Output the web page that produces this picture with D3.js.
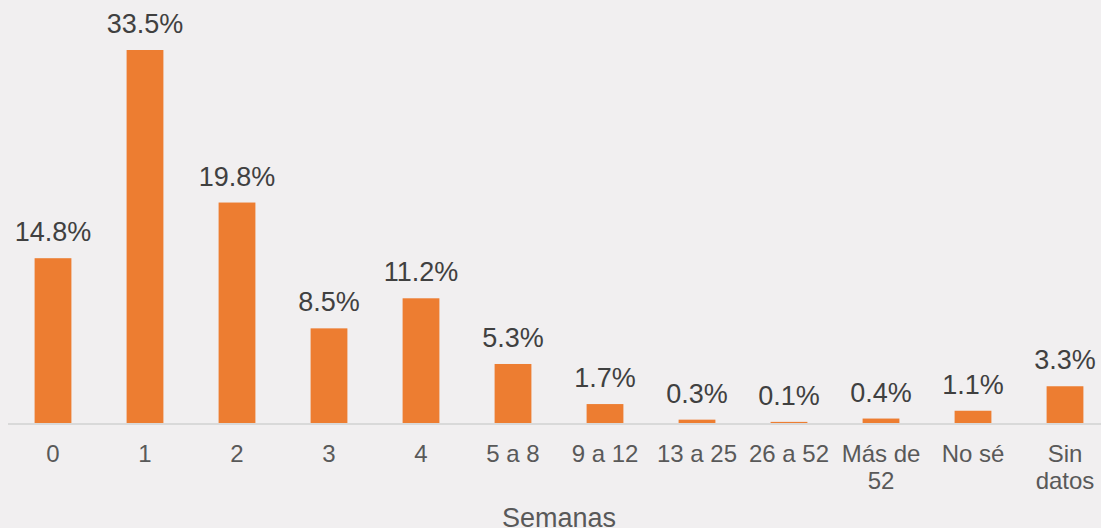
<!DOCTYPE html>
<html>
	<head>
		<script src="https://cdn.jsdelivr.net/npm/d3@7/dist/d3.min.js" charset="UTF-8"></script>
		<style type="text/css">
			html, body { margin: 0; padding: 0; background: #f1eff0; }
			svg { display: block; font-family: "Liberation Sans", Arial, sans-serif; }
			.axis path, .axis line { fill: none; stroke: #d9d9d9; stroke-width: 2; shape-rendering: crispEdges; }
		</style>
	</head>
	<body>
		<script type="text/javascript">
			var categories = ["0", "1", "2", "3", "4", "5 a 8", "9 a 12", "13 a 25", "26 a 52", "Más de\n52", "No sé", "Sin\ndatos"];
			var values = [14.8, 33.5, 19.8, 8.5, 11.2, 5.3, 1.7, 0.3, 0.1, 0.4, 1.1, 3.3];
			var axisTitle = "Semanas";

			var width = 1101;
			var height = 528;
			var baseline = 423;

			var svg = d3.select("body")
				.append("svg")
				.attr("width", width)
				.attr("height", height);

			var xScale = d3.scaleBand()
				.domain(categories)
				.range([7, 1111])
				.paddingInner(0.6)
				.paddingOuter(0.3);

			var yScale = d3.scaleLinear()
				.domain([0, 33.5])
				.range([baseline, 50]);

			var data = categories.map(function(c, i) { return {cat: c, val: values[i]}; });

			svg.selectAll("rect.bar")
				.data(data)
				.enter().append("rect")
				.attr("class", "bar")
				.attr("x", function(d) { return xScale(d.cat); })
				.attr("width", xScale.bandwidth())
				.attr("y", function(d) { return yScale(d.val); })
				.attr("height", function(d) { return baseline - yScale(d.val); })
				.attr("fill", "#ed7d31");

			// baseline axis
			var xAxis = d3.axisBottom(xScale).tickSize(0).tickFormat("");
			svg.append("g")
				.attr("class", "axis")
				.attr("transform", "translate(0," + baseline + ")")
				.call(xAxis);

			// value labels
			svg.selectAll("text.val")
				.data(data)
				.enter().append("text")
				.attr("class", "val")
				.attr("x", function(d) { return xScale(d.cat) + xScale.bandwidth() / 2; })
				.attr("y", function(d) { return yScale(d.val) - 17; })
				.attr("text-anchor", "middle")
				.attr("font-size", "27px")
				.attr("fill", "#404040")
				.text(function(d) { return d.val.toFixed(1) + "%"; });

			// category labels, may wrap to two lines
			var ticks = svg.selectAll("text.tick")
				.data(categories)
				.enter().append("text")
				.attr("class", "tick")
				.attr("text-anchor", "middle")
				.attr("font-size", "24px")
				.attr("fill", "#595959");
			ticks.each(function(c) {
				var t = d3.select(this);
				c.split("\n").forEach(function(line, j) {
					t.append("tspan")
						.attr("x", xScale(c) + xScale.bandwidth() / 2)
						.attr("y", 462 + j * 26.5)
						.text(line);
				});
			});

			svg.append("text")
				.attr("x", 559)
				.attr("y", 526.5)
				.attr("text-anchor", "middle")
				.attr("font-size", "27px")
				.attr("fill", "#595959")
				.text(axisTitle);
		</script>
	</body>
</html>
